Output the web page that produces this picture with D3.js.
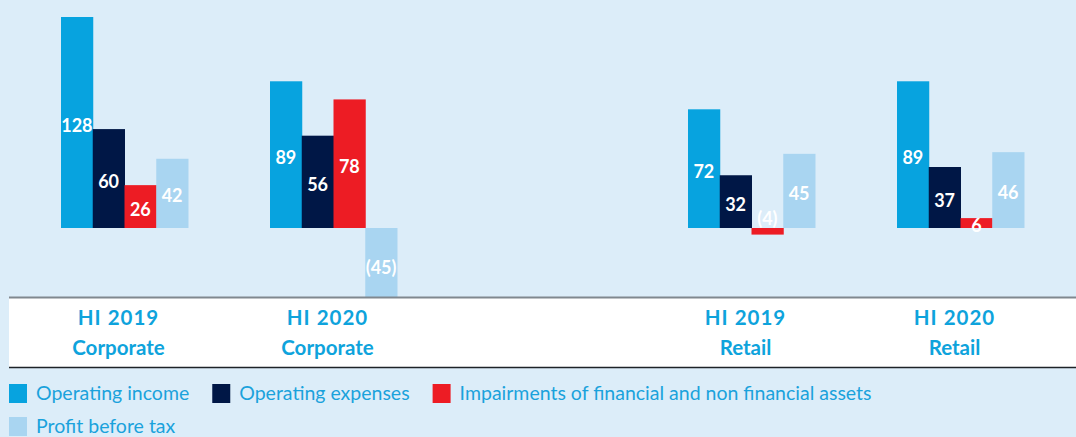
<!DOCTYPE html>
<html>
<head>
<meta charset="utf-8">
<script src="https://cdn.jsdelivr.net/npm/d3@7"></script>
<style>
  html, body { margin: 0; padding: 0; background: #dcedf9; }
  svg { display: block; font-family: Lato, "Open Sans", sans-serif; }
</style>
</head>
<body>
<div id="container"></div>
<script>
const groups = ['H1 2019 Corporate', 'H1 2020 Corporate', '', 'H1 2019 Retail', 'H1 2020 Retail'];
const groupLines = [['HI 2019', 'Corporate'], ['HI 2020', 'Corporate'], [], ['HI 2019', 'Retail'], ['HI 2020', 'Retail']];

const series = ['Operating income', 'Operating expenses', 'Impairments of financial and non financial assets', 'Profit before tax'];
const colors = ['#07a3df', '#001746', '#ed1c24', '#a9d5f1'];

const operatingIncome = [128, 89, null, 72, 89];
const operatingExpenses = [60, 56, null, 32, 37];
const impairments = [26, 78, null, -4, 6];
const profitBeforeTax = [42, -45, null, 45, 46];

const seriesValues = [operatingIncome, operatingExpenses, impairments, profitBeforeTax];

const width = 1076;
const height = 437;

const svg = d3.select('#container').append('svg')
  .attr('width', width)
  .attr('height', height);

svg.append('rect')
  .attr('width', width)
  .attr('height', height)
  .attr('fill', '#dcedf9');

const xScale = d3.scalePoint()
  .domain(groups)
  .range([124.5, 960.5]);

const inner = d3.scaleBand()
  .domain(series)
  .range([-63.5, 63.5]);

const yScale = d3.scaleLinear()
  .domain([0, 128])
  .range([228, 17]);

const fmt = v => v < 0 ? `(${-v})` : `${v}`;

const data = [];
groups.forEach((g, gi) => {
  series.forEach((s, si) => {
    const v = seriesValues[si][gi];
    if (v !== null) data.push({ group: g, series: s, idx: si, value: v });
  });
});

svg.selectAll('rect.bar')
  .data(data)
  .enter()
  .append('rect')
  .attr('class', 'bar')
  .attr('x', d => xScale(d.group) + inner(d.series))
  .attr('y', d => yScale(Math.max(0, d.value)))
  .attr('width', inner.bandwidth() + 0.5)
  .attr('height', d => Math.abs(yScale(d.value) - yScale(0)))
  .attr('fill', d => colors[d.idx]);

// band with category labels (drawn over bars so the negative one stops at the line)
svg.append('rect')
  .attr('x', 9)
  .attr('y', 297)
  .attr('width', width - 9)
  .attr('height', 70)
  .attr('fill', '#ffffff');

svg.append('line')
  .attr('x1', 9).attr('x2', width)
  .attr('y1', 297.5).attr('y2', 297.5)
  .attr('stroke', '#80888f')
  .attr('stroke-width', 2);

svg.append('line')
  .attr('x1', 9).attr('x2', width)
  .attr('y1', 367.5).attr('y2', 367.5)
  .attr('stroke', '#1d2328')
  .attr('stroke-width', 1.5);

svg.selectAll('text.val')
  .data(data)
  .enter()
  .append('text')
  .attr('class', 'val')
  .attr('x', d => xScale(d.group) + inner(d.series) + inner.bandwidth() / 2)
  .attr('y', d => {
    if (d.value < 0 && d.value > -10) return yScale(0) - 3;
    const mid = (yScale(d.value) + yScale(0)) / 2;
    return Math.min(mid + 9, yScale(-37) + 9);
  })
  .attr('text-anchor', 'middle')
  .attr('fill', '#ffffff')
  .attr('font-weight', 700)
  .attr('font-size', 18)
  .text(d => fmt(d.value));

const labels = svg.selectAll('g.cat')
  .data(groups.map((g, i) => ({ g, lines: groupLines[i] })).filter(d => d.lines.length))
  .enter()
  .append('text')
  .attr('class', 'cat')
  .attr('text-anchor', 'middle')
  .attr('fill', '#0ea3dc')
  .attr('font-weight', 700)
  .attr('font-size', 20.5);

labels.selectAll('tspan')
  .data(d => d.lines.map((l, i) => ({ l, i, x: xScale(d.g) - 6 })))
  .enter()
  .append('tspan')
  .attr('x', d => d.x)
  .attr('y', d => 325 + d.i * 30)
  .attr('letter-spacing', d => d.i === 0 ? 1 : 0)
  .text(d => d.l);

// legend, flowing onto a second row
const legend = svg.append('g');
let lx = 9, ly = 384;
series.forEach((s, i) => {
  const item = legend.append('g');
  const t = item.append('text')
    .attr('x', 27)
    .attr('y', 16)
    .attr('fill', '#1aa2dc')
    .attr('font-size', 19.5)
    .text(s);
  const w = 27 + t.node().getComputedTextLength();
  if (lx + w > 1000) { lx = 9; ly += 33; }
  item.attr('transform', `translate(${lx}, ${ly})`);
  item.append('rect')
    .attr('width', 18)
    .attr('height', 19)
    .attr('fill', colors[i]);
  lx += w + 23;
});
</script>
</body>
</html>
